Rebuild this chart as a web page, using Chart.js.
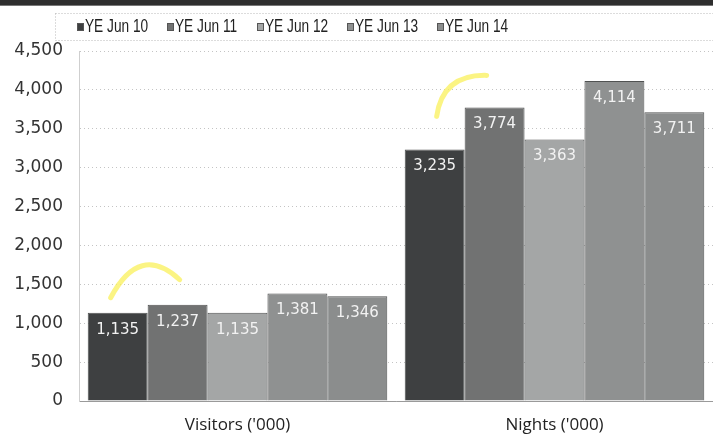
<!DOCTYPE html>
<html>
<head>
<meta charset="utf-8">
<script src="https://cdn.jsdelivr.net/npm/chart.js@4.4.1/dist/chart.umd.min.js"></script>
<style>
  html, body { margin: 0; padding: 0; background: #fff; }
  #wrap { width: 713px; height: 436px; position: relative; }
</style>
</head>
<body>
<div id="wrap"><canvas id="visitorChart"></canvas></div>
<script>
// visitors and nights by year ending June
const categories = ["Visitors ('000)", "Nights ('000)"];
const seriesLabels = ['YE Jun 10', 'YE Jun 11', 'YE Jun 12', 'YE Jun 13', 'YE Jun 14'];
const jun10 = [1135, 3235];
const jun11 = [1237, 3774];
const jun12 = [1135, 3363];
const jun13 = [1381, 4114];
const jun14 = [1346, 3711];
const yTicks = [0, 500, 1000, 1500, 2000, 2500, 3000, 3500, 4000, 4500];

const seriesValues = [jun10, jun11, jun12, jun13, jun14];
const barColors = ['#3e4041', '#717272', '#a4a6a6', '#8f9191', '#8b8d8d'];

const fmt = v => v.toLocaleString('en-US');

// dark strip at the top, dotted legend frame and the legend itself
const frame = {
    id: 'frame',
    afterDraw(chart) {
        const ctx = chart.ctx;
        ctx.save();
        ctx.fillStyle = '#2e2e2e';
        ctx.fillRect(0, 0, chart.width, 5);
        ctx.fillStyle = '#777';
        ctx.fillRect(0, 5, chart.width, 1);

        ctx.strokeStyle = '#b8b8b8';
        ctx.lineWidth = 1;
        ctx.setLineDash([1, 2]);
        ctx.strokeRect(55.5, 13.5, chart.width, 27);
        ctx.setLineDash([]);

        let x = 77;
        ctx.textBaseline = 'middle';
        ctx.font = '18px "Liberation Sans"';
        chart.data.datasets.forEach(ds => {
            ctx.fillStyle = ds.backgroundColor;
            ctx.fillRect(x, 23, 7, 8);
            ctx.strokeStyle = '#555';
            ctx.strokeRect(x + 0.5, 23.5, 6, 7);
            ctx.save();
            ctx.translate(x + 8, 27);
            ctx.scale(0.76, 1);
            ctx.fillStyle = '#222';
            ctx.fillText(ds.label, 0, 0);
            ctx.restore();
            x += 90;
        });
        ctx.restore();
    }
};

// values printed inside the top of each bar
const valueLabels = {
    id: 'valueLabels',
    afterDatasetsDraw(chart) {
        const ctx = chart.ctx;
        ctx.save();
        ctx.font = '15px "DejaVu Sans"';
        ctx.fillStyle = '#f2f2f2';
        ctx.textAlign = 'center';
        ctx.textBaseline = 'middle';
        chart.data.datasets.forEach((ds, i) => {
            chart.getDatasetMeta(i).data.forEach((bar, j) => {
                ctx.fillText(fmt(ds.data[j]), bar.x, bar.y + 17);
            });
        });
        ctx.restore();
    }
};

// yellow highlighter strokes over the first bar of each group
const highlighter = {
    id: 'highlighter',
    afterDraw(chart) {
        const ctx = chart.ctx;
        const meta = chart.getDatasetMeta(0);
        ctx.save();
        ctx.strokeStyle = 'rgba(250, 240, 90, 0.75)';
        ctx.lineWidth = 5;
        ctx.lineCap = 'round';
        const a = meta.data[0];
        ctx.beginPath();
        ctx.moveTo(a.x - 7, a.y - 15);
        ctx.quadraticCurveTo(a.x + 22, a.y - 70, a.x + 62, a.y - 33);
        ctx.stroke();
        const b = meta.data[1];
        ctx.beginPath();
        ctx.moveTo(b.x + 2, b.y - 33);
        ctx.quadraticCurveTo(b.x + 8, b.y - 75, b.x + 52, b.y - 74);
        ctx.stroke();
        ctx.restore();
    }
};

new Chart(document.getElementById('visitorChart'), {
    type: 'bar',
    data: {
        labels: categories,
        datasets: seriesValues.map((vals, i) => ({
            label: seriesLabels[i],
            data: vals,
            backgroundColor: barColors[i],
            borderColor: '#505252',
            borderWidth: 1,
            categoryPercentage: 0.945,
            barPercentage: 1.0
        }))
    },
    options: {
        responsive: true,
        maintainAspectRatio: false,
        animation: false,
        layout: { padding: { top: 51, right: 0, left: 0, bottom: 0 } },
        plugins: {
            legend: { display: false },
            tooltip: { enabled: false }
        },
        scales: {
            x: {
                afterFit(axis) { axis.height = 35; },
                grid: { display: false },
                border: { color: '#9a9a9a' },
                ticks: {
                    color: '#222',
                    font: { family: 'Open Sans', size: 17 },
                    padding: 6
                }
            },
            y: {
                min: 0,
                max: 4500,
                afterFit(axis) { axis.width = 79; },
                afterBuildTicks(axis) { axis.ticks = yTicks.map(v => ({ value: v })); },
                grid: {
                    color: '#c4c4c4',
                    drawTicks: false
                },
                border: { color: '#cfcfcf', dash: [1, 3] },
                ticks: {
                    color: '#333',
                    font: { family: 'DejaVu Sans', size: 17 },
                    padding: 16,
                    callback: v => fmt(v)
                }
            }
        }
    },
    plugins: [frame, valueLabels, highlighter]
});
</script>
</body>
</html>
